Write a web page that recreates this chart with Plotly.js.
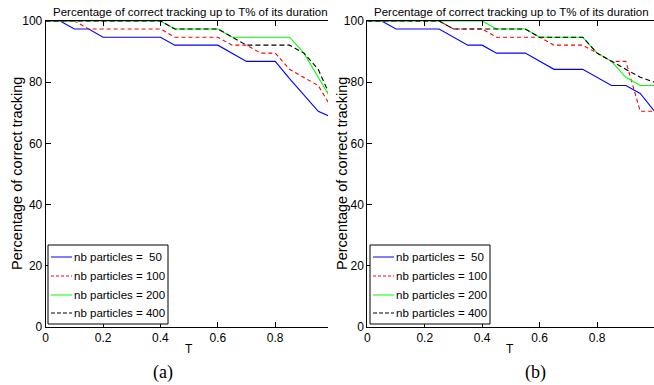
<!DOCTYPE html>
<html>
<head>
<meta charset="utf-8">
<script src="https://cdn.plot.ly/plotly-3.0.1.min.js"></script>
<style>html,body{margin:0;padding:0;background:#fff;}#chart{width:654px;height:385px;}</style>
</head>
<body>
<div id="chart"></div>
<script>
// ---------- data ----------
const seriesNames = ["nb particles =\u00a0\u00a050", "nb particles = 100", "nb particles = 200", "nb particles = 400"];
const xTicks = [0, 0.2, 0.4, 0.6, 0.8, 1];
const yTicks = [0, 20, 40, 60, 80, 100];
const chartTitle = "Percentage of correct tracking up to T% of its duration";
const yTitle = "Percentage of correct tracking";
const xTitle = "T";
const panelLabels = ["(a)", "(b)"];

// panel (a)
const xA50  = [0, 0.05, 0.1, 0.15, 0.2, 0.4, 0.45, 0.6, 0.7, 0.8, 0.85, 0.9, 0.95, 1.0];
const yA50  = [100, 100, 97.4, 97.4, 94.7, 94.7, 92.1, 92.1, 86.8, 86.8, 81.2, 76.0, 70.5, 68.4];
const xA100 = [0, 0.1, 0.15, 0.4, 0.45, 0.6, 0.65, 0.7, 0.75, 0.8, 0.85, 0.9, 0.95, 1.0];
const yA100 = [100, 100, 97.4, 97.4, 94.7, 94.7, 92.1, 92.1, 89.5, 89.5, 84.2, 81.6, 78.9, 71.1];
const xA200 = [0, 0.4, 0.45, 0.6, 0.65, 0.85, 0.9, 0.95, 1.0];
const yA200 = [100, 100, 97.4, 97.4, 94.7, 94.7, 89.5, 81.6, 73.7];
const xA400 = [0, 0.4, 0.45, 0.6, 0.7, 0.85, 0.9, 0.95, 1.0];
const yA400 = [100, 100, 97.4, 97.4, 92.1, 92.1, 89.5, 84.2, 73.7];

// panel (b)
const xB50  = [0, 0.05, 0.1, 0.25, 0.35, 0.4, 0.45, 0.55, 0.65, 0.75, 0.85, 0.9, 0.95, 1.0];
const yB50  = [100, 100, 97.4, 97.4, 92.1, 92.1, 89.5, 89.5, 84.2, 84.2, 78.9, 78.9, 76.3, 70.5];
const xB100 = [0, 0.25, 0.3, 0.4, 0.45, 0.6, 0.65, 0.75, 0.8, 0.85, 0.9, 0.95, 1.0];
const yB100 = [100, 100, 97.4, 97.4, 94.7, 94.7, 92.1, 92.1, 89.5, 86.8, 86.8, 70.5, 70.5];
const xB200 = [0, 0.4, 0.45, 0.55, 0.6, 0.75, 0.8, 0.85, 0.9, 0.95, 1.0];
const yB200 = [100, 100, 97.4, 97.4, 94.7, 94.7, 89.5, 86.8, 81.6, 78.9, 78.9];
const xB400 = [0, 0.25, 0.3, 0.55, 0.6, 0.75, 0.8, 0.85, 0.9, 0.95, 1.0];
const yB400 = [100, 100, 97.4, 97.4, 94.7, 94.7, 89.5, 86.8, 84.2, 81.6, 80.0];

// ---------- styles ----------
const FONT = "Liberation Sans, Arial, Helvetica, sans-serif";
const SERIF = "Liberation Serif, Times New Roman, serif";
const styles = [
  {color: "#0000ff", dash: "solid"},
  {color: "#ff0000", dash: "4px,3px"},
  {color: "#00ff00", dash: "solid"},
  {color: "#000000", dash: "5px,3px"}
];

function mk(x, y, i, xa, ya) {
  return {x: x, y: y, type: "scatter", mode: "lines", name: seriesNames[i],
    xaxis: xa, yaxis: ya, showlegend: false, hoverinfo: "skip",
    line: {color: styles[i].color, dash: styles[i].dash, width: 1.1}};
}
const traces = [
  mk(xA50, yA50, 0, "x", "y"),
  mk(xA100, yA100, 1, "x", "y"),
  mk(xA200, yA200, 2, "x", "y"),
  mk(xA400, yA400, 3, "x", "y"),
  mk(xB50, yB50, 0, "x2", "y2"),
  mk(xB100, yB100, 1, "x2", "y2"),
  mk(xB200, yB200, 2, "x2", "y2"),
  mk(xB400, yB400, 3, "x2", "y2")
];

const W = 654, H = 385;
const yDom = [1 - 327 / H, 1 - 21 / H];
function xax(domain, range) {
  return {domain: domain, range: range, tickvals: xTicks, ticktext: xTicks.map(String),
    ticks: "inside", ticklen: 5, tickcolor: "#000", showline: true, linecolor: "#000", linewidth: 1,
    mirror: "ticks", showgrid: false, zeroline: false, tickfont: {family: FONT, size: 12, color: "#000"}, fixedrange: true};
}
function yax(anchor) {
  return {domain: yDom, range: [0, 100], tickvals: yTicks, ticks: "inside", ticklen: 5, tickcolor: "#000",
    showline: true, linecolor: "#000", linewidth: 1, mirror: false, showgrid: false, zeroline: false,
    anchor: anchor, tickfont: {family: FONT, size: 12, color: "#000"}, fixedrange: true};
}

const ann = [];
const shapes = [];
function px(x) { return x / W; }
function py(y) { return 1 - y / H; }
function txt(x, y, t, size, fam, rot, anchor) {
  ann.push({xref: "paper", yref: "paper", x: px(x), y: py(y), text: t, showarrow: false,
    xanchor: anchor || "center", yanchor: "middle", textangle: rot || 0,
    font: {family: fam, size: size, color: "#000"}});
}
txt(190, 12, chartTitle, 11.5, FONT);
txt(511, 12, chartTitle, 11.5, FONT);
txt(17, 174, yTitle, 14.5, FONT, -90);
txt(342, 174, yTitle, 14.5, FONT, -90);
txt(189, 349, xTitle, 12, FONT);
txt(510, 349, xTitle, 12, FONT);
txt(163, 372, panelLabels[0], 18, SERIF);
txt(535, 372, panelLabels[1], 18, SERIF);

// legends (box, sample lines, labels)
const legRows = [257, 276, 295, 313];
function legend(x0) {
  shapes.push({type: "rect", xref: "paper", yref: "paper", x0: px(x0), x1: px(x0 + 120), y0: py(324), y1: py(245),
    line: {color: "#000", width: 1}, fillcolor: "#fff", layer: "above"});
  legRows.forEach(function (r, i) {
    shapes.push({type: "line", xref: "paper", yref: "paper", x0: px(x0 + 3), x1: px(x0 + 24), y0: py(r), y1: py(r),
      line: {color: styles[i].color, dash: i === 1 ? "3px,2px" : (i === 3 ? "4px,2px" : "solid"), width: 1}, layer: "above"});
    txt(x0 + 24, r, seriesNames[i], 11.5, FONT, 0, "left");
  });
}
legend(48);
legend(370);

const layout = {
  width: W, height: H, margin: {l: 0, r: 0, t: 0, b: 0},
  paper_bgcolor: "#fff", plot_bgcolor: "#fff",
  xaxis: Object.assign(xax([45.7 / W, 328 / W], [0, 0.984]), {anchor: "y"}),
  yaxis: yax("x"),
  xaxis2: Object.assign(xax([367.3 / W, 1], [0, 0.998]), {anchor: "y2"}),
  yaxis2: yax("x2"),
  annotations: ann,
  shapes: shapes,
  showlegend: false
};
Plotly.newPlot("chart", traces, layout, {displayModeBar: false, staticPlot: true});
</script>
</body>
</html>
